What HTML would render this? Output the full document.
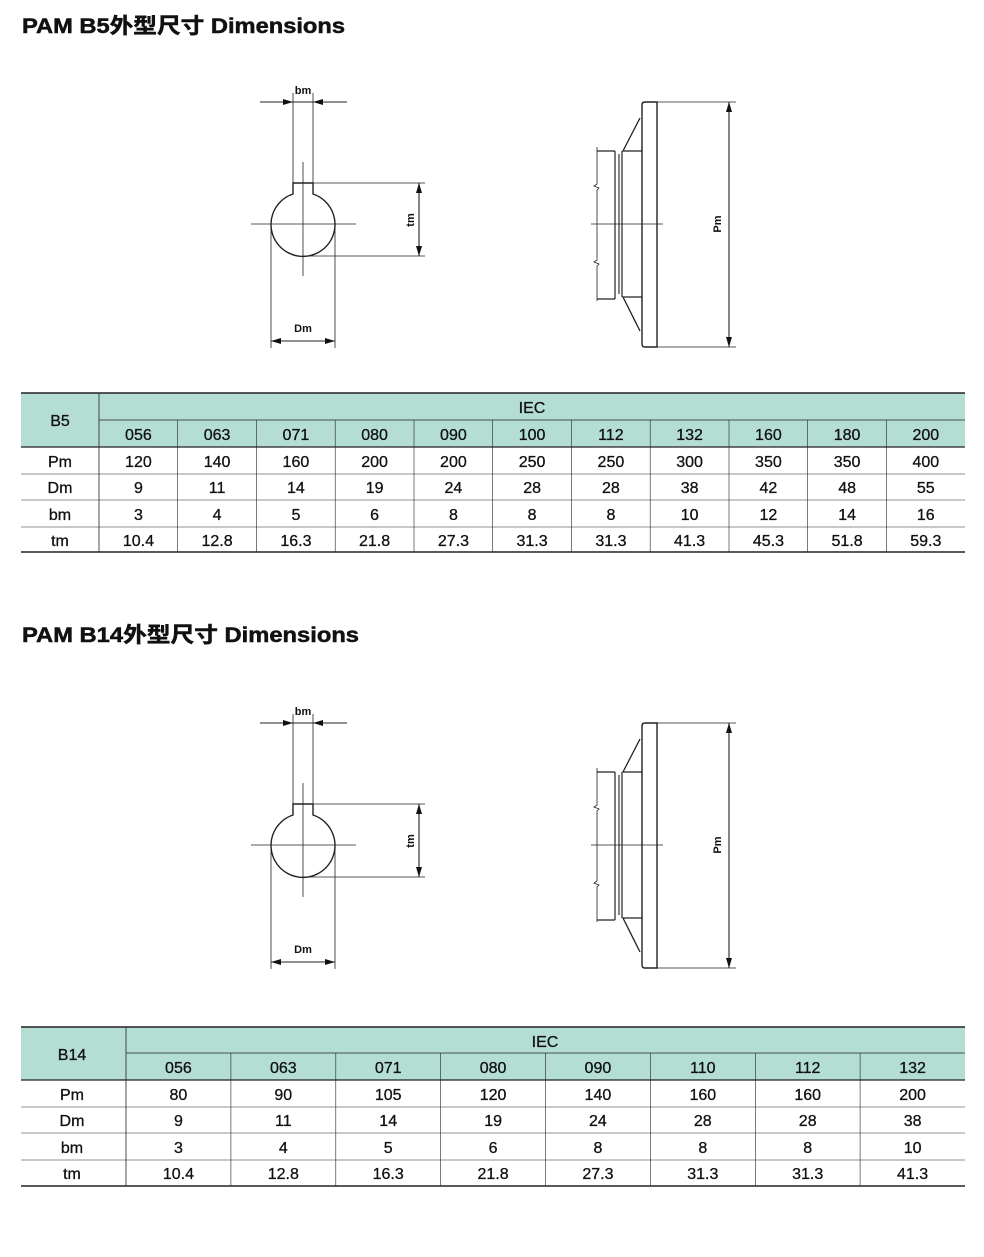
<!DOCTYPE html>
<html><head><meta charset="utf-8"><style>
html,body{margin:0;padding:0;background:#fff;}
svg{display:block;}
text{font-family:"Liberation Sans","Noto Sans CJK SC",sans-serif;}
</style></head><body>
<svg width="984" height="1257" viewBox="0 0 984 1257" xmlns="http://www.w3.org/2000/svg">
<defs>
<marker id="a" viewBox="0 0 10 6" refX="10" refY="3" markerWidth="11" markerHeight="6" orient="auto-start-reverse" markerUnits="userSpaceOnUse"><path d="M0,0L10,3L0,6z" fill="#111"/></marker>
<g id="drw" fill="none" stroke="#222" stroke-width="1.1">
  <line x1="260" y1="102" x2="347" y2="102" stroke-width="0.9"/>
  <line x1="260" y1="102" x2="293" y2="102" marker-end="url(#a)"/>
  <line x1="347" y1="102" x2="313" y2="102" marker-end="url(#a)"/>
  <line x1="293" y1="93" x2="293" y2="183" stroke-width="0.8"/>
  <line x1="313" y1="93" x2="313" y2="183" stroke-width="0.8"/>
  <path d="M293,194 L293,183 L313,183 L313,194 A32,32 0 1 1 293,194 Z" stroke-width="1.4"/>
  <line x1="251" y1="224" x2="356" y2="224" stroke-width="0.8"/>
  <line x1="303" y1="162" x2="303" y2="276" stroke-width="0.8"/>
  <line x1="313" y1="183" x2="425" y2="183" stroke-width="0.8"/>
  <line x1="303" y1="256" x2="425" y2="256" stroke-width="0.8"/>
  <line x1="419" y1="224" x2="419" y2="183" marker-end="url(#a)"/>
  <line x1="419" y1="224" x2="419" y2="256" marker-end="url(#a)"/>
  <line x1="271" y1="224" x2="271" y2="348" stroke-width="0.8"/>
  <line x1="335" y1="224" x2="335" y2="348" stroke-width="0.8"/>
  <line x1="303" y1="341" x2="271" y2="341" marker-end="url(#a)"/>
  <line x1="303" y1="341" x2="335" y2="341" marker-end="url(#a)"/>
  <path d="M645,102 L657,102 L657,347 L645,347 Q642,347 642,344 L642,105 Q642,102 645,102 Z" stroke-width="1.4"/>
  <path d="M640,118 L623,151 L642,151 M640,331 L623,297 L642,297" stroke-width="1.3"/>
  <line x1="622" y1="151" x2="622" y2="297" stroke-width="1.2"/>
  <line x1="619" y1="154" x2="619" y2="294"/>
  <line x1="615" y1="151" x2="615" y2="299" stroke-width="1.2"/>
  <path d="M597,151 L615,151 M597,299 L615,299" stroke-width="1.2"/>
  <path d="M597,147 L597,184 L594,186 L599,188 L597,190 L597,260 L594,262 L599,264 L597,266 L597,301" stroke-width="0.8"/>
  <line x1="591" y1="224" x2="663" y2="224" stroke-width="0.8"/>
  <line x1="657" y1="102" x2="736" y2="102" stroke-width="0.8"/>
  <line x1="657" y1="347" x2="736" y2="347" stroke-width="0.8"/>
  <line x1="729" y1="224" x2="729" y2="102" marker-end="url(#a)"/>
  <line x1="729" y1="224" x2="729" y2="347" marker-end="url(#a)"/>
  <g stroke="none" fill="#111" font-size="11" font-weight="bold">
    <text x="303" y="94" text-anchor="middle" font-family="Liberation Sans, sans-serif">bm</text>
    <text x="303" y="332" text-anchor="middle" font-family="Liberation Sans, sans-serif">Dm</text>
    <text transform="translate(414,220) rotate(-90)" text-anchor="middle" font-family="Liberation Sans, sans-serif">tm</text>
    <text transform="translate(721,224) rotate(-90)" text-anchor="middle" font-family="Liberation Sans, sans-serif">Pm</text>
  </g>
</g>
</defs>
<text x="22" y="33" font-size="21" font-weight="bold" fill="#111" stroke="#111" stroke-width="0.5" textLength="323" lengthAdjust="spacingAndGlyphs">PAM B5外型尺寸 Dimensions</text>
<text x="22" y="642" font-size="21" font-weight="bold" fill="#111" stroke="#111" stroke-width="0.5" textLength="337" lengthAdjust="spacingAndGlyphs">PAM B14外型尺寸 Dimensions</text>
<use href="#drw"/>
<use href="#drw" transform="translate(0,621)"/>

<g font-size="16" fill="#111" stroke="#111" stroke-width="0.3" text-anchor="middle">
<rect x="21" y="393" width="944" height="54" fill="#b4ddd4" stroke="none"/>
<g stroke="#222" fill="none">
<line x1="21" y1="393" x2="965" y2="393" stroke-width="1.5"/>
<line x1="99" y1="420" x2="965" y2="420" stroke-width="0.8"/>
<line x1="21" y1="447" x2="965" y2="447" stroke-width="1.2"/>
<line x1="21" y1="474" x2="965" y2="474" stroke-width="0.6"/>
<line x1="21" y1="500" x2="965" y2="500" stroke-width="0.6"/>
<line x1="21" y1="527" x2="965" y2="527" stroke-width="0.6"/>
<line x1="21" y1="552" x2="965" y2="552" stroke-width="1.5"/>
<line x1="99" y1="393" x2="99" y2="552" stroke-width="0.8"/>
<path stroke-width="0.6" d="M177.7,420V552M256.5,420V552M335.2,420V552M414,420V552M492.7,420V552M571.5,420V552M650.2,420V552M729,420V552M807.7,420V552M886.5,420V552"/>
</g>
<text x="60" y="426">B5</text>
<text x="532" y="413">IEC</text>
<text x="60" y="467">Pm</text><text x="60" y="493">Dm</text><text x="60" y="520">bm</text><text x="60" y="546">tm</text>
<text y="440"><tspan x="138.4">056</tspan><tspan x="217.1">063</tspan><tspan x="295.9">071</tspan><tspan x="374.6">080</tspan><tspan x="453.4">090</tspan><tspan x="532.1">100</tspan><tspan x="610.9">112</tspan><tspan x="689.6">132</tspan><tspan x="768.4">160</tspan><tspan x="847.1">180</tspan><tspan x="925.8">200</tspan></text>
<text y="467"><tspan x="138.4">120</tspan><tspan x="217.1">140</tspan><tspan x="295.9">160</tspan><tspan x="374.6">200</tspan><tspan x="453.4">200</tspan><tspan x="532.1">250</tspan><tspan x="610.9">250</tspan><tspan x="689.6">300</tspan><tspan x="768.4">350</tspan><tspan x="847.1">350</tspan><tspan x="925.8">400</tspan></text>
<text y="493"><tspan x="138.4">9</tspan><tspan x="217.1">11</tspan><tspan x="295.9">14</tspan><tspan x="374.6">19</tspan><tspan x="453.4">24</tspan><tspan x="532.1">28</tspan><tspan x="610.9">28</tspan><tspan x="689.6">38</tspan><tspan x="768.4">42</tspan><tspan x="847.1">48</tspan><tspan x="925.8">55</tspan></text>
<text y="520"><tspan x="138.4">3</tspan><tspan x="217.1">4</tspan><tspan x="295.9">5</tspan><tspan x="374.6">6</tspan><tspan x="453.4">8</tspan><tspan x="532.1">8</tspan><tspan x="610.9">8</tspan><tspan x="689.6">10</tspan><tspan x="768.4">12</tspan><tspan x="847.1">14</tspan><tspan x="925.8">16</tspan></text>
<text y="546"><tspan x="138.4">10.4</tspan><tspan x="217.1">12.8</tspan><tspan x="295.9">16.3</tspan><tspan x="374.6">21.8</tspan><tspan x="453.4">27.3</tspan><tspan x="532.1">31.3</tspan><tspan x="610.9">31.3</tspan><tspan x="689.6">41.3</tspan><tspan x="768.4">45.3</tspan><tspan x="847.1">51.8</tspan><tspan x="925.8">59.3</tspan></text>
</g>

<g font-size="16" fill="#111" stroke="#111" stroke-width="0.3" text-anchor="middle">
<rect x="21" y="1027" width="944" height="53" fill="#b4ddd4" stroke="none"/>
<g stroke="#222" fill="none">
<line x1="21" y1="1027" x2="965" y2="1027" stroke-width="1.5"/>
<line x1="126" y1="1053" x2="965" y2="1053" stroke-width="0.8"/>
<line x1="21" y1="1080" x2="965" y2="1080" stroke-width="1.2"/>
<line x1="21" y1="1107" x2="965" y2="1107" stroke-width="0.6"/>
<line x1="21" y1="1133" x2="965" y2="1133" stroke-width="0.6"/>
<line x1="21" y1="1160" x2="965" y2="1160" stroke-width="0.6"/>
<line x1="21" y1="1186" x2="965" y2="1186" stroke-width="1.5"/>
<line x1="126" y1="1027" x2="126" y2="1186" stroke-width="0.8"/>
<path stroke-width="0.6" d="M230.9,1053V1186M335.8,1053V1186M440.6,1053V1186M545.5,1053V1186M650.4,1053V1186M755.3,1053V1186M860.1,1053V1186"/>
</g>
<text x="72" y="1060">B14</text>
<text x="545" y="1047">IEC</text>
<text x="72" y="1100">Pm</text><text x="72" y="1126">Dm</text><text x="72" y="1153">bm</text><text x="72" y="1179">tm</text>
<text y="1073"><tspan x="178.4">056</tspan><tspan x="283.3">063</tspan><tspan x="388.2">071</tspan><tspan x="493.1">080</tspan><tspan x="597.9">090</tspan><tspan x="702.8">110</tspan><tspan x="807.7">112</tspan><tspan x="912.6">132</tspan></text>
<text y="1100"><tspan x="178.4">80</tspan><tspan x="283.3">90</tspan><tspan x="388.2">105</tspan><tspan x="493.1">120</tspan><tspan x="597.9">140</tspan><tspan x="702.8">160</tspan><tspan x="807.7">160</tspan><tspan x="912.6">200</tspan></text>
<text y="1126"><tspan x="178.4">9</tspan><tspan x="283.3">11</tspan><tspan x="388.2">14</tspan><tspan x="493.1">19</tspan><tspan x="597.9">24</tspan><tspan x="702.8">28</tspan><tspan x="807.7">28</tspan><tspan x="912.6">38</tspan></text>
<text y="1153"><tspan x="178.4">3</tspan><tspan x="283.3">4</tspan><tspan x="388.2">5</tspan><tspan x="493.1">6</tspan><tspan x="597.9">8</tspan><tspan x="702.8">8</tspan><tspan x="807.7">8</tspan><tspan x="912.6">10</tspan></text>
<text y="1179"><tspan x="178.4">10.4</tspan><tspan x="283.3">12.8</tspan><tspan x="388.2">16.3</tspan><tspan x="493.1">21.8</tspan><tspan x="597.9">27.3</tspan><tspan x="702.8">31.3</tspan><tspan x="807.7">31.3</tspan><tspan x="912.6">41.3</tspan></text>
</g>
</svg>
</body></html>
